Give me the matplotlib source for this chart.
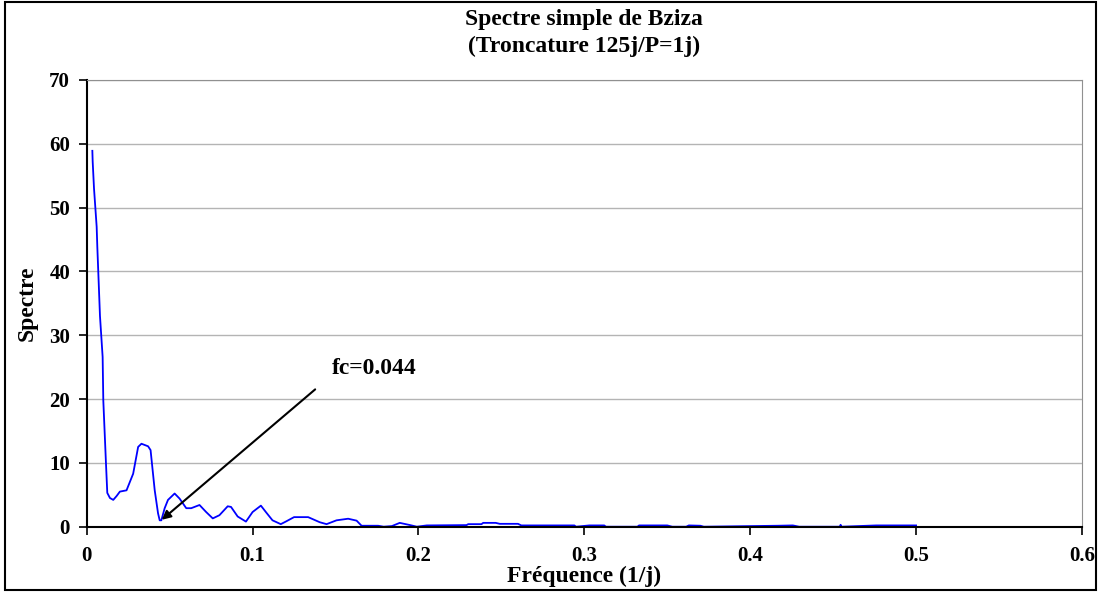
import matplotlib.pyplot as plt

plt.rcParams['font.family'] = ['Liberation Serif', 'DejaVu Serif']
plt.rcParams['font.weight'] = 'bold'

# Fréquences (1/j) et spectre
freq = [0.0034, 0.0036, 0.0044, 0.006, 0.0064, 0.008, 0.0096, 0.010, 0.0116, 0.0124,
        0.014, 0.016, 0.018, 0.020, 0.024, 0.028, 0.031, 0.033, 0.037, 0.0385,
        0.041, 0.043, 0.044, 0.045, 0.047, 0.049, 0.053, 0.056, 0.060, 0.063,
        0.068, 0.072, 0.076, 0.080, 0.085, 0.087, 0.091, 0.096, 0.100, 0.105,
        0.108, 0.112, 0.117, 0.120, 0.125, 0.1335, 0.1405, 0.1446, 0.1506, 0.1576,
        0.1627, 0.1657, 0.1757, 0.179, 0.184, 0.1887, 0.195, 0.199, 0.205, 0.229,
        0.230, 0.238, 0.239, 0.2466, 0.249, 0.260, 0.262, 0.294, 0.295, 0.303,
        0.312, 0.313, 0.332, 0.333, 0.350, 0.353, 0.3614, 0.363, 0.370, 0.372,
        0.4166, 0.4257, 0.4295, 0.454, 0.4545, 0.455, 0.476, 0.500]
spectre = [58.9, 57.2, 53.0, 47.0, 43.8, 33.0, 26.6, 19.8, 10.0, 5.3,
           4.5, 4.2, 4.8, 5.5, 5.7, 8.3, 12.5, 13.0, 12.6, 12.0,
           5.7, 2.1, 1.0, 1.0, 2.9, 4.2, 5.2, 4.4, 2.9, 2.9,
           3.4, 2.3, 1.3, 1.8, 3.2, 3.1, 1.6, 0.8, 2.3, 3.3,
           2.3, 1.0, 0.4, 0.8, 1.5, 1.5, 0.7, 0.4, 1.0, 1.25,
           0.95, 0.15, 0.15, 0.0, 0.1, 0.6, 0.25, 0.0, 0.2, 0.25,
           0.4, 0.4, 0.6, 0.6, 0.45, 0.45, 0.2, 0.2, 0.0, 0.2,
           0.2, 0.0, 0.0, 0.2, 0.2, 0.0, 0.0, 0.2, 0.15, 0.0,
           0.15, 0.2, 0.0, 0.0, 0.3, 0.0, 0.2, 0.2]

fc = 0.044
fc_val = 0.8
xticks = [0, 0.1, 0.2, 0.3, 0.4, 0.5, 0.6]
xticklabels = ['0', '0.1', '0.2', '0.3', '0.4', '0.5', '0.6']
yticks = [0, 10, 20, 30, 40, 50, 60, 70]

fig = plt.figure(figsize=(10.99, 5.92), dpi=100)
ax = fig.add_axes([0.0789, 0.1103, 0.9056, 0.7546])

ax.plot(freq, spectre, '-', color='#0000ff', lw=1.3)

ax.set_xlim(0, 0.6)
ax.set_ylim(0, 70)
ax.set_xticks(xticks)
ax.set_xticklabels(xticklabels)
ax.set_yticks(yticks)
ax.grid(axis='y', color='#b4b4b4', lw=1)
ax.set_axisbelow(True)
ax.tick_params(labelsize=15, width=1.2, length=6, direction='out')
ax.tick_params(axis='y', pad=6)
ax.tick_params(axis='x', pad=8)

for s in ['top', 'right']:
    ax.spines[s].set_color('#909090')
for s in ['left', 'bottom']:
    ax.spines[s].set_color('black')
    ax.spines[s].set_linewidth(1.5)

ax.set_xlabel('Fréquence (1/j)', fontsize=17, fontweight='bold', labelpad=0)
ax.set_ylabel('Spectre', fontsize=17, fontweight='bold', labelpad=8)
ax.set_title('Spectre simple de Bziza\n(Troncature 125j/P=1j)', fontsize=17,
             fontweight='bold', linespacing=1.35, pad=20)

ax.annotate('', xy=(fc, fc_val), xytext=(0.139, 21.8),
            arrowprops=dict(arrowstyle='-|>', color='black', lw=1.5, mutation_scale=13))
ax.text(0.148, 24.0, 'fc=0.044', fontsize=17, fontweight='bold')

# cadre extérieur
fig.patches.append(plt.Rectangle((0.005, 0.003), 0.992, 0.994, transform=fig.transFigure,
                                 fill=False, edgecolor='black', lw=1.5))

plt.savefig('out.png')
